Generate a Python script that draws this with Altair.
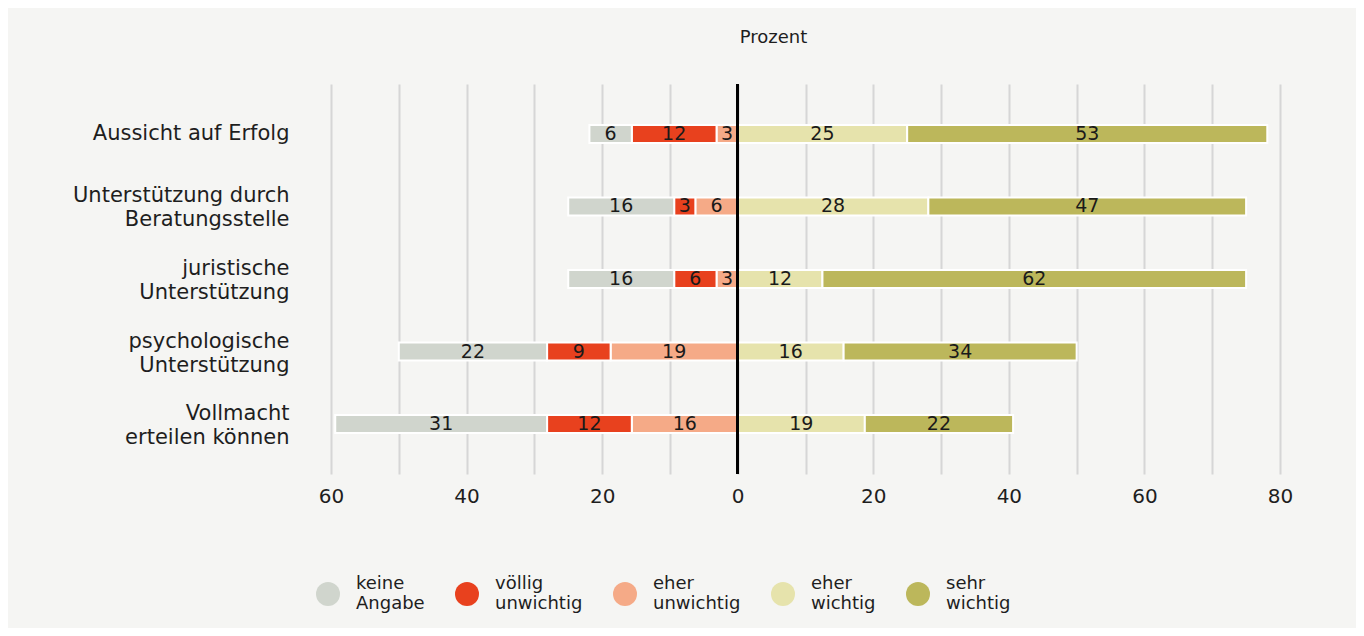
import altair as alt
import pandas as pd

categories = [
    "Aussicht auf Erfolg",
    "Unterstützung durch\nBeratungsstelle",
    "juristische\nUnterstützung",
    "psychologische\nUnterstützung",
    "Vollmacht\nerteilen können",
]
responses = ["keine Angabe", "völlig unwichtig", "eher unwichtig", "eher wichtig", "sehr wichtig"]
colors = ["#d0d5cd", "#e8411e", "#f5aa87", "#e6e3ac", "#bcb75b"]

keine_angabe = [6.25, 15.625, 15.625, 21.875, 31.25]
voellig_unwichtig = [12.5, 3.125, 6.25, 9.375, 12.5]
eher_unwichtig = [3.125, 6.25, 3.125, 18.75, 15.625]
eher_wichtig = [25.0, 28.125, 12.5, 15.625, 18.75]
sehr_wichtig = [53.125, 46.875, 62.5, 34.375, 21.875]

tick_values = [-60, -50, -40, -30, -20, -10, 0, 10, 20, 30, 40, 50, 60, 70, 80]

FONT = "DejaVu Sans"

rows = []
for i, cat in enumerate(categories):
    # left side, from zero outward
    pos = 0.0
    for resp, vals in [("eher unwichtig", eher_unwichtig), ("völlig unwichtig", voellig_unwichtig), ("keine Angabe", keine_angabe)]:
        v = vals[i]
        rows.append(dict(category=cat, response=resp, start=-pos, end=-(pos + v), label=str(round(v))))
        pos += v
    pos = 0.0
    for resp, vals in [("eher wichtig", eher_wichtig), ("sehr wichtig", sehr_wichtig)]:
        v = vals[i]
        rows.append(dict(category=cat, response=resp, start=pos, end=pos + v, label=str(round(v))))
        pos += v
df = pd.DataFrame(rows)
df["mid"] = (df["start"] + df["end"]) / 2

y_enc = alt.Y(
    "category:N",
    sort=categories,
    scale=alt.Scale(paddingInner=0.752, paddingOuter=0.5655),
    axis=alt.Axis(
        title=None,
        labelExpr="split(datum.label, '\\n')",
        labelFontSize=21,
        labelColor="#1e1e1e",
        labelPadding=42,
        labelLineHeight=24,
        labelLimit=400,
        labelFont=FONT,
        labelBaseline=alt.condition("indexof(datum.label, '\\n') >= 0", alt.value("line-bottom"), alt.value("middle")),
        labelOffset=alt.condition("indexof(datum.label, '\\n') >= 0", alt.value(2), alt.value(0)),
        ticks=False,
        domain=False,
        grid=False,
    ),
)

x_scale = alt.Scale(domain=[-60, 80], nice=False, zero=False)

bars = alt.Chart(df).mark_bar(stroke="white", strokeWidth=2).encode(
    x=alt.X(
        "start:Q",
        scale=x_scale,
        axis=alt.Axis(
            values=tick_values,
            labelExpr="datum.value % 20 == 0 ? abs(datum.value) : ''",
            title=None,
            grid=True,
            gridColor="#d6d6d6",
            gridWidth=2,
            ticks=False,
            domain=False,
            labelFlush=False,
            labelFontSize=20,
            labelPadding=12,
            labelColor="#1e1e1e",
            labelFont=FONT,
        ),
    ),
    x2="end:Q",
    y=y_enc,
    color=alt.Color(
        "response:N",
        scale=alt.Scale(domain=responses, range=colors),
        legend=alt.Legend(
            orient="none",
            legendX=-15,
            legendY=498,
            direction="horizontal",
            title=None,
            symbolType="circle",
            symbolSize=576,
            symbolStrokeWidth=0,
            symbolOpacity=1,
            labelExpr="split(datum.label, ' ')",
            labelFontSize=18,
            labelFont=FONT,
            labelColor="#1e1e1e",
            labelOffset=16,
            labelBaseline="line-bottom",
            columnPadding=30,
        ),
    ),
)

texts = alt.Chart(df).mark_text(fontSize=19, color="#1a1a1a", font=FONT, baseline="middle").encode(
    x=alt.X("mid:Q", scale=x_scale),
    y=alt.Y("category:N", sort=categories),
    text="label:N",
)

zero = alt.Chart(df).mark_rule(color="black", strokeWidth=2).encode(x=alt.datum(0))

chart = (
    alt.layer(bars, zero, texts)
    .properties(
        width=949,
        height=390,
        title=alt.TitleParams(
            "Prozent", fontSize=18, fontWeight="normal", color="#1e1e1e", font=FONT,
            anchor="middle", dx=-32, offset=36,
        ),
        padding={"left": 323, "top": 76, "right": 76, "bottom": 154},
        autosize=alt.AutoSizeParams(type="none"),
        background="#f5f5f3",
    )
    .configure_view(stroke=None)
)

chart.save("out.html", embed_options={"renderer": "svg", "actions": False})
